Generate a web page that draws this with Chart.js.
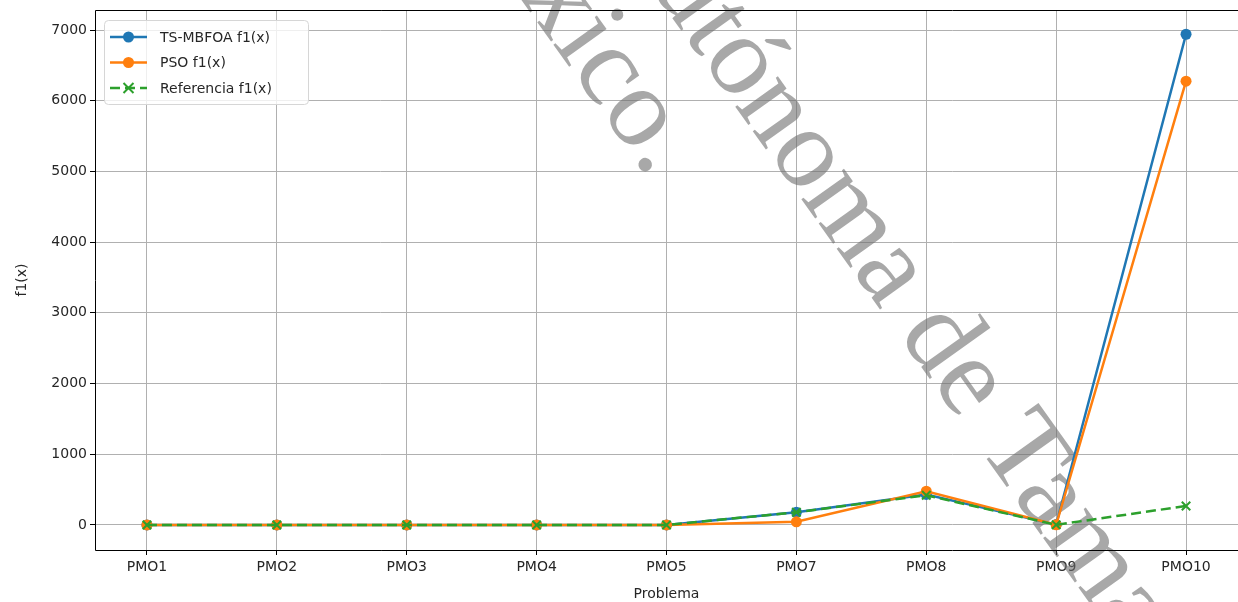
<!DOCTYPE html>
<html>
<head>
<meta charset="utf-8">
<script src="https://cdn.jsdelivr.net/npm/chart.js@4"></script>
<style>
  html, body { margin: 0; padding: 0; background: #fff; }
  #wrap { width: 1238px; height: 602px; }
</style>
</head>
<body>
<div id="wrap"><canvas id="chart" width="1238" height="602"></canvas></div>
<script>
// data
const categories = ["PMO1", "PMO2", "PMO3", "PMO4", "PMO5", "PMO7", "PMO8", "PMO9", "PMO10"];
const tsMbfoa = [0, 0, 0, 0, 0, 180, 432, 5, 6940];
const pso = [0, 0, 0, 0, 0, 45, 478, 2, 6277];
const referencia = [0, 0, 0, 0, 0, 180, 420, 2, 269];
const yTicks = [0, 1000, 2000, 3000, 4000, 5000, 6000, 7000];
const watermark = ["México.", "Autónoma de Tamaulipas"];

const FONT = "'DejaVu Sans', sans-serif";
const INK = "#262626";
const toXY = (vals) => vals.map((v, i) => ({ x: i, y: v }));

// watermark over the axes, under the lines
const watermarkPlugin = {
  id: "watermark",
  beforeDatasetsDraw(chart) {
    const ctx = chart.ctx;
    const size = 114;
    ctx.save();
    ctx.font = size + "px 'Liberation Serif', serif";
    ctx.fillStyle = "rgba(110,110,110,0.6)";
    ctx.textBaseline = "alphabetic";
    const ang = 54.5 * Math.PI / 180;
    const dx = Math.cos(ang), dy = Math.sin(ang);
    const nx = -dy, ny = dx; // "down" in text space
    // [line, anchor char index, centre of that glyph x, y]
    const spots = [[0, 5, 637, 118], [1, 10, 966, 386]];
    for (const [li, ci, cx, cy] of spots) {
      const s = watermark[li];
      const pre = ctx.measureText(s.slice(0, ci)).width;
      const w = ctx.measureText(s[ci]).width;
      const d = pre + w / 2;
      const bx = cx + 0.224 * size * nx, by = cy + 0.224 * size * ny;
      ctx.save();
      ctx.translate(bx - d * dx, by - d * dy);
      ctx.rotate(ang);
      ctx.fillText(s, 0, 0);
      ctx.restore();
    }
    ctx.restore();
  },
};

// matplotlib style spines + legend inside the axes
const framePlugin = {
  id: "frame",
  afterDatasetsDraw(chart) {
    const { ctx, chartArea: a } = chart;
    ctx.save();
    ctx.strokeStyle = "#000";
    ctx.lineWidth = 1;
    const l = Math.round(a.left) + 0.5, t = Math.round(a.top) + 0.5, b = Math.round(a.bottom) + 0.5;
    ctx.beginPath();
    ctx.moveTo(chart.width, t); ctx.lineTo(l, t); ctx.lineTo(l, b); ctx.lineTo(chart.width, b);
    ctx.stroke();

    // legend
    const bx = 104, by = 20, bw = 204, bh = 84, r = 4;
    ctx.beginPath();
    ctx.roundRect(bx + 0.5, by + 0.5, bw, bh, r);
    ctx.fillStyle = "rgba(255,255,255,0.8)";
    ctx.fill();
    ctx.strokeStyle = "#d6d6d6";
    ctx.stroke();
    ctx.font = "14px " + FONT;
    ctx.textBaseline = "middle";
    chart.data.datasets.forEach((ds, i) => {
      const y = 37 + i * 25.5;
      ctx.strokeStyle = ds.borderColor;
      ctx.lineWidth = ds.borderWidth;
      ctx.setLineDash(ds.borderDash || []);
      ctx.beginPath();
      ctx.moveTo(110, y);
      ctx.lineTo(147, y);
      ctx.stroke();
      ctx.setLineDash([]);
      if (ds.pointStyle === "crossRot") {
        const m = 5;
        ctx.lineWidth = 2;
        ctx.beginPath();
        ctx.moveTo(128.5 - m, y - m); ctx.lineTo(128.5 + m, y + m);
        ctx.moveTo(128.5 + m, y - m); ctx.lineTo(128.5 - m, y + m);
        ctx.stroke();
      } else {
        ctx.fillStyle = ds.backgroundColor;
        ctx.beginPath();
        ctx.arc(128.5, y, 5.5, 0, Math.PI * 2);
        ctx.fill();
      }
      ctx.fillStyle = INK;
      ctx.fillText(ds.label, 160, y + 1);
    });
    ctx.restore();
  },
};

new Chart(document.getElementById("chart"), {
  type: "line",
  data: {
    datasets: [
      {
        label: "TS-MBFOA f1(x)",
        data: toXY(tsMbfoa),
        borderColor: "#1f77b4",
        backgroundColor: "#1f77b4",
        borderWidth: 2.5,
        pointRadius: 5.5,
        pointBorderWidth: 0,
        order: 3,
      },
      {
        label: "PSO f1(x)",
        data: toXY(pso),
        borderColor: "#ff7f0e",
        backgroundColor: "#ff7f0e",
        borderWidth: 2.5,
        pointRadius: 5.5,
        pointBorderWidth: 0,
        order: 2,
      },
      {
        label: "Referencia f1(x)",
        data: toXY(referencia),
        borderColor: "#2ca02c",
        backgroundColor: "#2ca02c",
        borderWidth: 2.5,
        borderDash: [10, 5],
        pointStyle: "crossRot",
        pointRadius: 6,
        pointBorderWidth: 2,
        order: 1,
      },
    ],
  },
  options: {
    responsive: false,
    animation: false,
    events: [],
    layout: { autoPadding: false, padding: { top: 10, right: 0, left: 0, bottom: 0 } },
    plugins: { legend: { display: false }, tooltip: { enabled: false } },
    scales: {
      x: {
        type: "linear",
        min: -0.4,
        max: 8.4,
        afterBuildTicks: (s) => { s.ticks = categories.map((c, i) => ({ value: i })); },
        afterFit: (s) => { s.height = 52; s.paddingLeft = 0; s.paddingRight = 0; },
        ticks: {
          callback: (v) => categories[v],
          color: INK,
          font: { family: FONT, size: 14 },
          padding: 4,
          maxRotation: 0,
        },
        grid: { color: "#b0b0b0", lineWidth: 1, tickColor: "#000", tickLength: 5 },
        border: { display: false },
        title: { display: true, text: "Problema", color: INK, font: { family: FONT, size: 14 }, padding: { top: 0, bottom: -1 } },
      },
      y: {
        min: -354,
        max: 7283,
        afterBuildTicks: (s) => { s.ticks = yTicks.map((v) => ({ value: v })); },
        afterFit: (s) => { s.width = 95; s.paddingTop = 0; s.paddingBottom = 0; },
        ticks: {
          callback: (v) => String(v),
          color: INK,
          font: { family: FONT, size: 14 },
          padding: 3,
        },
        grid: { color: "#b0b0b0", lineWidth: 1, tickColor: "#000", tickLength: 5 },
        border: { display: false },
        title: { display: true, text: "f1(x)", color: INK, font: { family: FONT, size: 14 }, padding: { top: 14, bottom: 0 } },
      },
    },
  },
  plugins: [watermarkPlugin, framePlugin],
});
</script>
</body>
</html>
